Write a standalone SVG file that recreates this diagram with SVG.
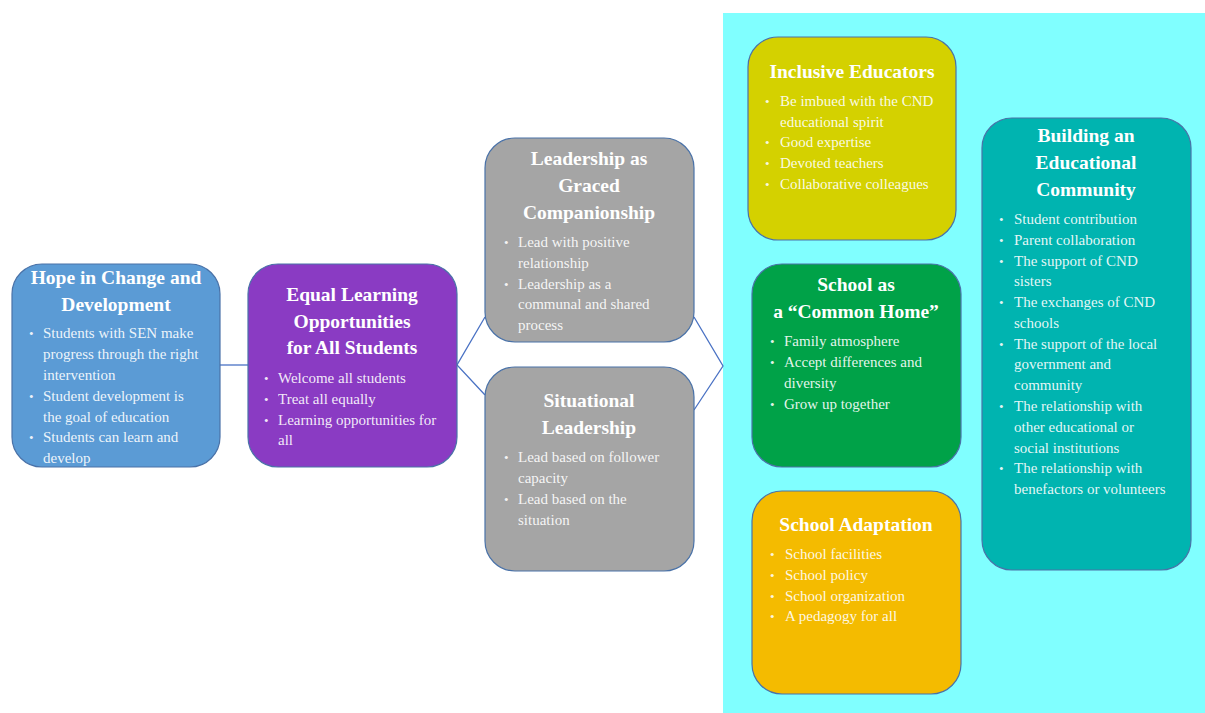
<svg xmlns="http://www.w3.org/2000/svg" width="1205" height="713" viewBox="0 0 1205 713">
  <style>
    .box { stroke: #4a72a8; stroke-width: 1.2; }
    .title { font-family: "Liberation Serif", "Times New Roman", serif; font-weight: bold; font-size: 19.5px; fill: #ffffff; text-anchor: middle; }
    .body { font-family: "Liberation Serif", "Times New Roman", serif; font-size: 15px; fill: #ffffff; fill-opacity: 0.9; }
    .dot { font-family: "Liberation Serif", "Times New Roman", serif; font-size: 13px; fill: #ffffff; fill-opacity: 0.9; }
    .link { stroke: #4a72c4; stroke-width: 1.3; fill: none; }
  </style>

  <!-- backdrop panel for the right-hand column of factors -->
  <rect x="723" y="13" width="482" height="700" fill="#80ffff"/>

  <g id="connectors">
    <line class="link" x1="220" y1="365" x2="248" y2="365"/>
    <polyline class="link" points="485,317 457,365 485,395"/>
    <polyline class="link" points="694,317 723,366 694,410"/>
  </g>

  <g id="hope">
    <rect class="box" x="12" y="264" width="208" height="203" rx="30" fill="#5b9bd5"/>
    <text class="title" x="116" y="284">Hope in Change and</text>
    <text class="title" x="116" y="311">Development</text>
    <g class="dot"><text x="29" y="338">•</text><text x="29" y="401">•</text><text x="29" y="442">•</text></g>
    <g class="body">
      <text x="43" y="338">Students with SEN make</text>
      <text x="43" y="359">progress through the right</text>
      <text x="43" y="380">intervention</text>
      <text x="43" y="401">Student development is</text>
      <text x="43" y="422">the goal of education</text>
      <text x="43" y="442">Students can learn and</text>
      <text x="43" y="463">develop</text>
    </g>
  </g>

  <g id="equal">
    <rect class="box" x="248" y="264" width="209" height="203" rx="30" fill="#8a3bc3"/>
    <text class="title" x="352" y="301">Equal Learning</text>
    <text class="title" x="352" y="328">Opportunities</text>
    <text class="title" x="352" y="354">for All Students</text>
    <g class="dot"><text x="264" y="383">•</text><text x="264" y="404">•</text><text x="264" y="425">•</text></g>
    <g class="body">
      <text x="278" y="383">Welcome all students</text>
      <text x="278" y="404">Treat all equally</text>
      <text x="278" y="425">Learning opportunities for</text>
      <text x="278" y="445">all</text>
    </g>
  </g>

  <g id="graced">
    <rect class="box" x="485" y="138" width="209" height="204" rx="30" fill="#a5a5a5"/>
    <text class="title" x="589" y="165">Leadership as</text>
    <text class="title" x="589" y="192">Graced</text>
    <text class="title" x="589" y="219">Companionship</text>
    <g class="dot"><text x="504" y="247">•</text><text x="504" y="289">•</text></g>
    <g class="body">
      <text x="518" y="247">Lead with positive</text>
      <text x="518" y="268">relationship</text>
      <text x="518" y="289">Leadership as a</text>
      <text x="518" y="309">communal and shared</text>
      <text x="518" y="330">process</text>
    </g>
  </g>

  <g id="situational">
    <rect class="box" x="485" y="367" width="209" height="204" rx="30" fill="#a5a5a5"/>
    <text class="title" x="589" y="407">Situational</text>
    <text class="title" x="589" y="434">Leadership</text>
    <g class="dot"><text x="504" y="462">•</text><text x="504" y="504">•</text></g>
    <g class="body">
      <text x="518" y="462">Lead based on follower</text>
      <text x="518" y="483">capacity</text>
      <text x="518" y="504">Lead based on the</text>
      <text x="518" y="525">situation</text>
    </g>
  </g>

  <g id="educators">
    <rect class="box" x="748" y="37" width="208" height="203" rx="30" fill="#d4d100"/>
    <text class="title" x="852" y="78">Inclusive Educators</text>
    <g class="dot"><text x="765" y="106">•</text><text x="765" y="147">•</text><text x="765" y="168">•</text><text x="765" y="189">•</text></g>
    <g class="body">
      <text x="780" y="106">Be imbued with the CND</text>
      <text x="780" y="127">educational spirit</text>
      <text x="780" y="147">Good expertise</text>
      <text x="780" y="168">Devoted teachers</text>
      <text x="780" y="189">Collaborative colleagues</text>
    </g>
  </g>

  <g id="home">
    <rect class="box" x="752" y="264" width="209" height="203" rx="30" fill="#00a248"/>
    <text class="title" x="856" y="291">School as</text>
    <text class="title" x="856" y="318">a “Common Home”</text>
    <g class="dot"><text x="770" y="346">•</text><text x="770" y="367">•</text><text x="770" y="409">•</text></g>
    <g class="body">
      <text x="784" y="346">Family atmosphere</text>
      <text x="784" y="367">Accept differences and</text>
      <text x="784" y="388">diversity</text>
      <text x="784" y="409">Grow up together</text>
    </g>
  </g>

  <g id="adaptation">
    <rect class="box" x="752" y="491" width="209" height="203" rx="30" fill="#f4bb00"/>
    <text class="title" x="856" y="531">School Adaptation</text>
    <g class="dot"><text x="770" y="559">•</text><text x="770" y="580">•</text><text x="770" y="601">•</text><text x="770" y="621">•</text></g>
    <g class="body">
      <text x="785" y="559">School facilities</text>
      <text x="785" y="580">School policy</text>
      <text x="785" y="601">School organization</text>
      <text x="785" y="621">A pedagogy for all</text>
    </g>
  </g>

  <g id="community">
    <rect class="box" x="982" y="118" width="209" height="452" rx="30" fill="#00b4b0"/>
    <text class="title" x="1086" y="142">Building an</text>
    <text class="title" x="1086" y="169">Educational</text>
    <text class="title" x="1086" y="196">Community</text>
    <g class="dot"><text x="999" y="224">•</text><text x="999" y="245">•</text><text x="999" y="266">•</text><text x="999" y="307">•</text><text x="999" y="349">•</text><text x="999" y="411">•</text><text x="999" y="473">•</text></g>
    <g class="body">
      <text x="1014" y="224">Student contribution</text>
      <text x="1014" y="245">Parent collaboration</text>
      <text x="1014" y="266">The support of CND</text>
      <text x="1014" y="286">sisters</text>
      <text x="1014" y="307">The exchanges of CND</text>
      <text x="1014" y="328">schools</text>
      <text x="1014" y="349">The support of the local</text>
      <text x="1014" y="369">government and</text>
      <text x="1014" y="390">community</text>
      <text x="1014" y="411">The relationship with</text>
      <text x="1014" y="432">other educational or</text>
      <text x="1014" y="453">social institutions</text>
      <text x="1014" y="473">The relationship with</text>
      <text x="1014" y="494">benefactors or volunteers</text>
    </g>
  </g>
</svg>
